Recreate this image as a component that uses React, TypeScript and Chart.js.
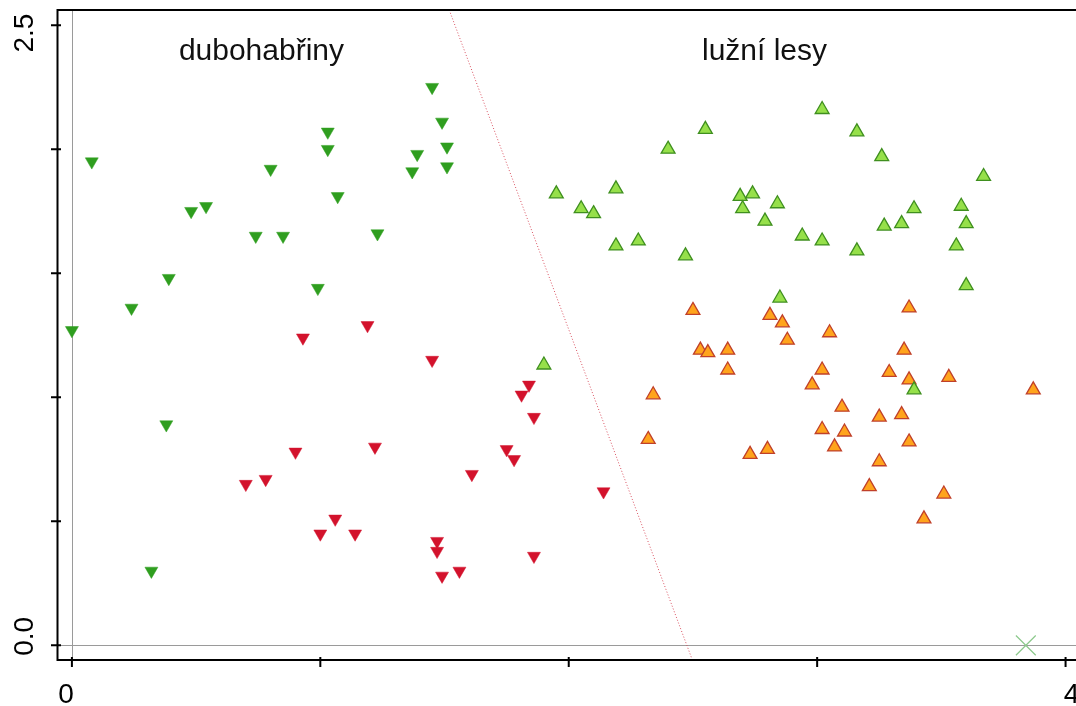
import React, { useEffect, useRef } from "react";
import { Chart, registerables } from "chart.js";

Chart.register(...registerables);

// ---- data ----
const oakHornbeamA_x = [0.00, 0.08, 0.24, 0.32, 0.38, 0.39, 0.48, 0.54, 0.74, 0.80, 0.85, 0.99, 1.03, 1.03, 1.07, 1.23, 1.37, 1.39, 1.45, 1.49, 1.51, 1.51];
const oakHornbeamA_y = [1.27, 1.95, 1.36, 0.30, 0.89, 1.48, 1.75, 1.77, 1.65, 1.92, 1.65, 1.44, 2.07, 2.00, 1.81, 1.66, 1.91, 1.98, 2.25, 2.11, 2.01, 1.93];

const oakHornbeamB_x = [0.93, 0.90, 1.19, 1.45, 1.84, 1.81, 1.86, 1.22, 1.75, 1.78, 1.61, 0.70, 0.78, 1.00, 1.06, 1.14, 2.14, 1.47, 1.47, 1.49, 1.56, 1.86];
const oakHornbeamB_y = [1.24, 0.78, 1.29, 1.15, 1.05, 1.01, 0.92, 0.80, 0.79, 0.75, 0.69, 0.65, 0.67, 0.45, 0.51, 0.45, 0.62, 0.42, 0.38, 0.28, 0.30, 0.36];

const floodplainA_x = [1.95, 2.05, 2.10, 2.19, 2.40, 2.55, 2.28, 2.19, 2.47, 3.02, 3.16, 3.26, 3.67, 2.69, 2.74, 2.70, 2.84, 2.79, 3.39, 3.58, 3.60, 3.27, 3.34, 2.94, 3.02, 3.16, 3.56, 3.60, 2.85, 3.39, 1.90];
const floodplainA_y = [1.82, 1.76, 1.74, 1.84, 2.00, 2.08, 1.63, 1.61, 1.57, 2.16, 2.07, 1.97, 1.89, 1.81, 1.82, 1.76, 1.78, 1.71, 1.76, 1.77, 1.70, 1.69, 1.70, 1.65, 1.63, 1.59, 1.61, 1.45, 1.40, 1.03, 1.13];

const floodplainB_x = [2.50, 2.53, 2.56, 2.34, 2.32, 3.37, 2.81, 2.86, 2.88, 3.05, 2.64, 2.64, 3.35, 3.02, 2.98, 3.29, 3.37, 3.53, 3.87, 3.10, 3.25, 3.34, 3.02, 3.11, 3.07, 3.37, 2.80, 2.73, 3.25, 3.21, 3.51, 3.43];
const floodplainB_y = [1.35, 1.19, 1.18, 1.01, 0.83, 1.36, 1.33, 1.30, 1.23, 1.26, 1.19, 1.11, 1.19, 1.11, 1.05, 1.10, 1.07, 1.08, 1.03, 0.96, 0.92, 0.93, 0.87, 0.86, 0.80, 0.82, 0.79, 0.77, 0.74, 0.64, 0.61, 0.51];

const centroid_x = [3.84];
const centroid_y = [0.0];

const separator_x = [1.519, 2.495];
const separator_y = [2.561, -0.052];

const groupLabels = ["dubohabřiny", "lužní lesy"];
const groupLabel_x = [0.763, 2.788];
const groupLabel_y = [2.361, 2.361];

const xTickValues = [0, 1, 2, 3, 4];
const xTickLabels = ["0", "", "", "", "4"];
const yTickValues = [0, 0.5, 1, 1.5, 2, 2.5];
const yTickLabels = ["0.0", "", "", "", "", "2.5"];

const X_MIN = -0.056, X_MAX = 4.042, Y_MIN = -0.059, Y_MAX = 2.561;

const zip = (xs: number[], ys: number[]) => xs.map((x, i) => ({ x, y: ys[i] }));

const FONT = "'Liberation Sans', Arial, sans-serif";

const axesPlugin = {
  id: "rAxes",
  beforeDatasetsDraw(chart: any) {
    const { ctx, chartArea } = chart;
    const xs = chart.scales.x, ys = chart.scales.y;
    ctx.save();
    ctx.strokeStyle = "#9a9a9a";
    ctx.lineWidth = 1;
    const x0 = Math.round(xs.getPixelForValue(0)) + 0.5;
    const y0 = Math.round(ys.getPixelForValue(0)) + 0.5;
    ctx.beginPath();
    ctx.moveTo(x0, chartArea.top);
    ctx.lineTo(x0, chartArea.bottom);
    ctx.moveTo(chartArea.left, y0);
    ctx.lineTo(chartArea.right, y0);
    ctx.stroke();
    ctx.restore();
  },
  afterDatasetsDraw(chart: any) {
    const { ctx, chartArea } = chart;
    const xs = chart.scales.x, ys = chart.scales.y;
    ctx.save();
    // frame
    ctx.strokeStyle = "#000";
    ctx.lineWidth = 2;
    ctx.beginPath();
    ctx.moveTo(chartArea.left - 0.5, chartArea.bottom);
    ctx.lineTo(chartArea.left - 0.5, chartArea.top);
    ctx.lineTo(chartArea.right + 2, chartArea.top);
    ctx.moveTo(chartArea.left - 1.5, chartArea.bottom);
    ctx.lineTo(chartArea.right + 2, chartArea.bottom);
    ctx.stroke();
    // ticks
    ctx.beginPath();
    xTickValues.forEach((v) => {
      const px = xs.getPixelForValue(v);
      ctx.moveTo(px, chartArea.bottom - 3);
      ctx.lineTo(px, chartArea.bottom + 7);
    });
    yTickValues.forEach((v) => {
      const py = ys.getPixelForValue(v);
      ctx.moveTo(chartArea.left - 7, py);
      ctx.lineTo(chartArea.left + 3, py);
    });
    ctx.stroke();
    // tick labels
    ctx.fillStyle = "#000";
    ctx.font = `28px ${FONT}`;
    ctx.textAlign = "center";
    ctx.textBaseline = "alphabetic";
    xTickValues.forEach((v, i) => {
      const lab = xTickLabels[i];
      if (!lab) return;
      const px = xs.getPixelForValue(v);
      const shift = i === 0 ? -6 : 6;
      ctx.fillText(lab, px + shift, chartArea.bottom + 43);
    });
    yTickValues.forEach((v, i) => {
      const lab = yTickLabels[i];
      if (!lab) return;
      const py = ys.getPixelForValue(v);
      const shift = i === 0 ? -9 : 8;
      ctx.save();
      ctx.translate(25, py + shift);
      ctx.rotate(-Math.PI / 2);
      ctx.textBaseline = "middle";
      ctx.fillText(lab, 0, 0);
      ctx.restore();
    });
    // group labels
    ctx.font = `30px ${FONT}`;
    ctx.fillStyle = "#111";
    groupLabels.forEach((t, i) => {
      ctx.fillText(t, xs.getPixelForValue(groupLabel_x[i]), ys.getPixelForValue(groupLabel_y[i]));
    });
    ctx.restore();
  },
};

export default function App() {
  const ref = useRef<HTMLCanvasElement | null>(null);
  useEffect(() => {
    if (!ref.current) return;
    const chart = new Chart(ref.current, {
      type: "scatter",
      data: {
        datasets: [
          {
            label: "separator",
            data: zip(separator_x, separator_y),
            showLine: true,
            borderColor: "#d9505f",
            borderWidth: 1,
            borderDash: [1, 2],
            pointRadius: 0,
            fill: false,
          },
          {
            label: "dubohabřiny A",
            data: zip(oakHornbeamA_x, oakHornbeamA_y),
            pointStyle: "triangle",
            rotation: 180,
            radius: 7.5,
            backgroundColor: "#2f9e1f",
            borderColor: "#2f9e1f",
            borderWidth: 0.5,
          },
          {
            label: "dubohabřiny B",
            data: zip(oakHornbeamB_x, oakHornbeamB_y),
            pointStyle: "triangle",
            rotation: 180,
            radius: 7.5,
            backgroundColor: "#d3122c",
            borderColor: "#d3122c",
            borderWidth: 0.5,
          },
          {
            label: "lužní lesy A",
            data: zip(floodplainA_x, floodplainA_y),
            pointStyle: "triangle",
            radius: 8,
            backgroundColor: "#96e04a",
            borderColor: "#3f8f1f",
            borderWidth: 1.3,
          },
          {
            label: "lužní lesy B",
            data: zip(floodplainB_x, floodplainB_y),
            pointStyle: "triangle",
            radius: 8,
            backgroundColor: "#ffa41c",
            borderColor: "#c0402a",
            borderWidth: 1.3,
          },
          {
            label: "centroid",
            data: zip(centroid_x, centroid_y),
            pointStyle: "crossRot",
            radius: 14,
            borderColor: "#8cc98c",
            borderWidth: 1.2,
          },
        ],
      },
      options: {
        responsive: false,
        animation: false,
        events: [],
        layout: { autoPadding: false, padding: { left: 58, top: 10, right: 0, bottom: 46 } },
        plugins: { legend: { display: false }, tooltip: { enabled: false } },
        scales: {
          x: { type: "linear", min: X_MIN, max: X_MAX, display: false },
          y: { type: "linear", min: Y_MIN, max: Y_MAX, display: false },
        },
      },
      plugins: [axesPlugin],
    });
    return () => chart.destroy();
  }, []);
  return (
    <div style={{ position: "fixed", left: 0, top: 0, width: 1076, height: 706, background: "#fff" }}>
      <canvas ref={ref} width={1076} height={706} style={{ display: "block" }} />
    </div>
  );
}
